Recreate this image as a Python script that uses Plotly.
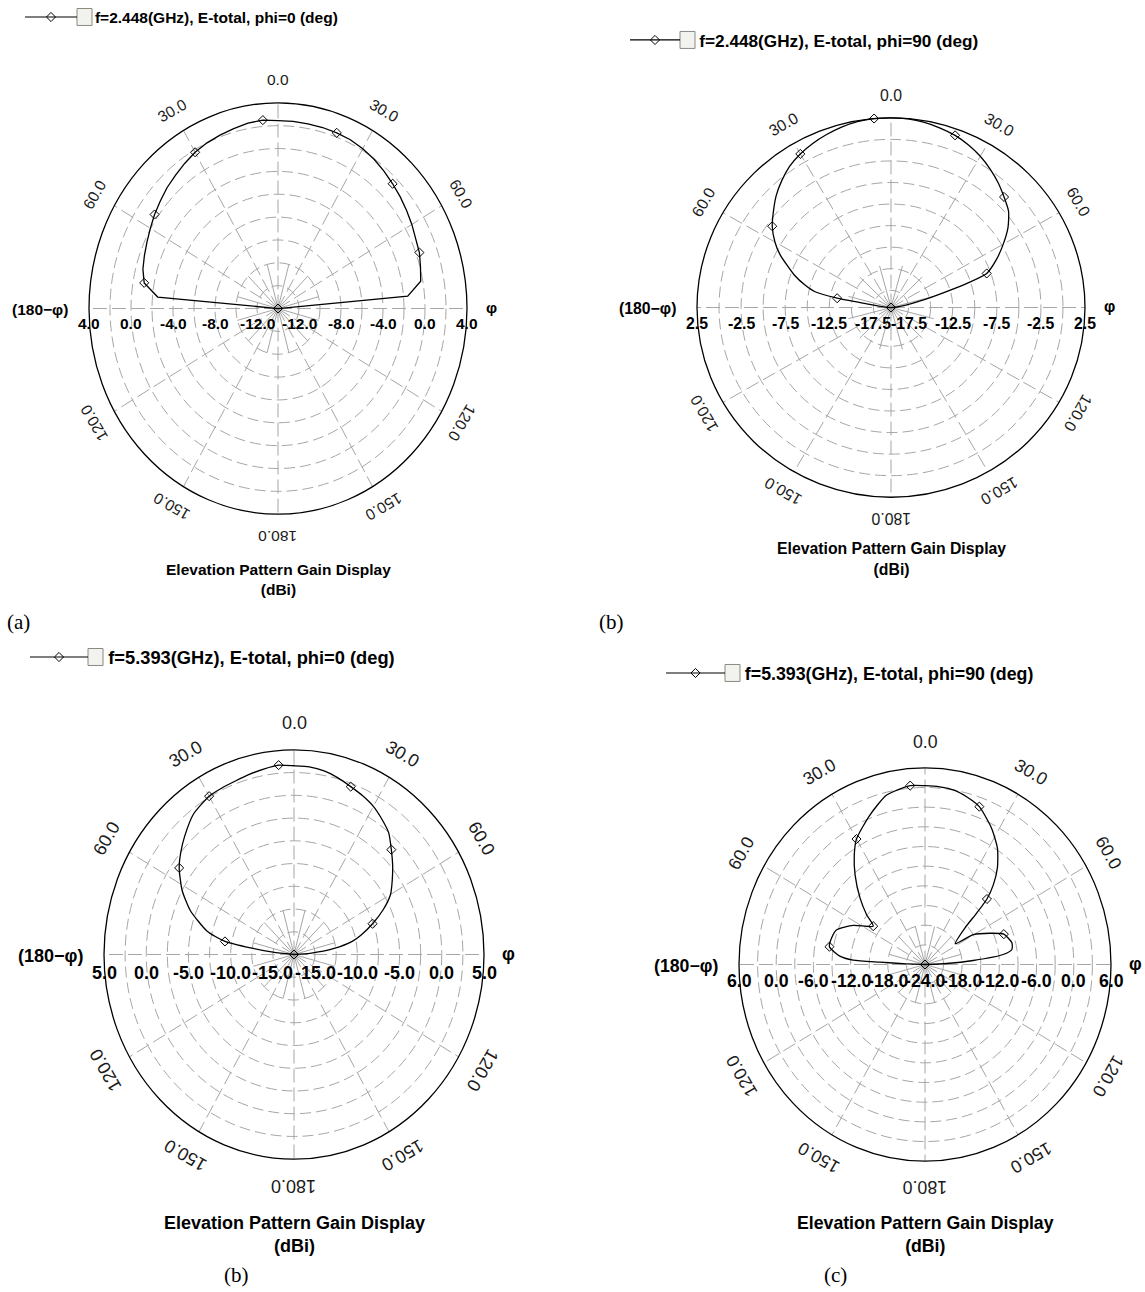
import numpy as np
import plotly.graph_objects as go

W, H = 1145, 1292

# ---------------- data ----------------
MARK_THETA = [-80, -55, -30, -5, 20, 45, 70, 95]
ANGLE_TICKS = [0, 30, 60, 120, 150, 180]

# (a) f=2.448 GHz, phi=0
theta_a = [-90, -85, -80, -75, -70, -65, -60, -55, -50, -45, -40, -35, -30, -25, -20, -15, -10, -5,
           0, 5, 10, 15, 20, 25, 30, 35, 40, 45, 50, 55, 60, 65, 70, 75, 80, 85, 90, 95]
gain_a = [-14, -2.5, -1.06, -0.68, -0.46, -0.23, 0.04, 0.35, 0.63, 0.95, 1.2, 1.5, 1.79, 2.0, 2.15, 2.3, 2.47, 2.55,
          2.45, 2.45, 2.4, 2.4, 2.36, 2.3, 2.15, 1.95, 1.7, 1.44, 1.2, 0.95, 0.72, 0.5, 0.33, 0.05, -0.2, -1.6, -14, -14]
range_a = [-14, 4]
radial_ticks_a = [4.0, 0.0, -4.0, -8.0, -12.0]

# (b) f=2.448 GHz, phi=90
theta_b = [-90, -86, -81, -80, -78, -75, -71, -64, -60, -55, -50, -45, -40, -35, -30, -25, -20, -15, -10, -5,
           0, 5, 10, 15, 20, 25, 30, 35, 40, 45, 50, 55, 60, 65, 70, 72, 74, 77, 81, 85, 90, 95]
gain_b = [-19.5, -18.9, -16.6, -13.3, -10.7, -9.4, -7.9, -5.5, -4.3, -3.06, -2.1, -1.1, -0.25, 0.52, 1.07, 1.5, 1.85, 2.17, 2.4, 2.5,
          2.5, 2.45, 2.3, 2.05, 1.75, 1.3, 0.75, 0.1, -0.6, -1.37, -2.1, -3.3, -4.8, -6.3, -7.95, -10.5, -13.5, -16.0, -17.8, -18.8, -19.5, -19.5]
range_b = [-19.5, 2.5]
radial_ticks_b = [2.5, -2.5, -7.5, -12.5, -17.5]

# (c) f=5.393 GHz, phi=0
theta_c = [-90, -84, -82, -80, -76, -68.5, -62, -55, -50, -45, -37.6, -30, -25, -20, -15, -10, -5,
           0, 5, 10, 15, 20, 25, 30, 35, 40, 45, 50, 55, 60, 65, 70, 75, 78, 82, 86, 90, 95]
gain_c = [-17.5, -15.0, -12.3, -9.2, -6.9, -4.3, -2.5, -0.9, 0.0, 0.83, 2.0, 2.6, 2.7, 2.8, 3.0, 3.2, 3.4,
          3.25, 3.2, 3.0, 2.6, 2.14, 1.75, 1.3, 0.65, -0.05, -1.2, -2.25, -3.3, -4.3, -5.85, -7.6, -9.3, -10.4, -12.7, -15.6, -17.5, -17.5]
range_c = [-17.5, 5]
radial_ticks_c = [5.0, 0.0, -5.0, -10.0, -15.0]

# (d) f=5.393 GHz, phi=90
theta_d = [-90, -88, -87.2, -86.7, -84.7, -80, -75, -69.6, -62.7, -55, -51.1, -45.9, -39.5, -34.3, -30, -21.3, -13.45, -5,
           0, 5, 10, 15, 20, 27.3, 33.4, 38.4, 42.2, 45, 46.7, 49.1, 57, 59.7, 65.5, 70, 76.7, 80.7, 83.1, 85.5, 87.5, 90, 95]
gain_d = [-24, -21, -16.7, -12.4, -10.2, -8.35, -8.4, -8.8, -11, -13.8, -11.9, -9.4, -6.27, -3.76, -1.9, 0.47, 2.58, 3.39,
          3.27, 3.2, 3.0, 2.4, 1.62, -0.6, -2.77, -5.2, -7.6, -9.87, -12.5, -15.5, -18.2, -14.97, -12.5, -10.47, -9.6, -9.8, -11.3, -16.2, -20.5, -24, -24]
range_d = [-24, 6]
radial_ticks_d = [6.0, 0.0, -6.0, -12.0, -18.0, -24.0]

legend_names = ["f=2.448(GHz), E-total, phi=0 (deg)", "f=2.448(GHz), E-total, phi=90 (deg)",
                "f=5.393(GHz), E-total, phi=0 (deg)", "f=5.393(GHz), E-total, phi=90 (deg)"]
ring_steps = [2, 2.5, 2.5, 3]
captions = ["(a)", "(b)", "(b)", "(c)"]

# ---------------- layout geometry ----------------
SANS = "Liberation Sans, Arial, sans-serif"
SERIF = "Liberation Serif, Times New Roman, serif"
panels = [
    dict(theta=theta_a, gain=gain_a, rng=range_a, ticks=radial_ticks_a, cx=278, cy=307, rx=189, ry=206,
         fs=15.5, lfs=15.5, aoff=23, labdy=15, leg=(20, 15), iw=52, title_y=558, cap=(18, 621), spline=False),
    dict(theta=theta_b, gain=gain_b, rng=range_b, ticks=radial_ticks_b, cx=891, cy=306, rx=194, ry=190,
         fs=15.8, lfs=17.2, aoff=22, labdy=16, leg=(625, 38), iw=50, title_y=537, cap=(611, 621), spline=True),
    dict(theta=theta_c, gain=gain_c, rng=range_c, ticks=radial_ticks_c, cx=294, cy=954, rx=190, ry=205,
         fs=18, lfs=18.3, aoff=27, labdy=19, leg=(25, 656), iw=58, title_y=1211, cap=(236, 1275), spline=True),
    dict(theta=theta_d, gain=gain_d, rng=range_d, ticks=radial_ticks_d, cx=925, cy=964, rx=186, ry=197,
         fs=17.7, lfs=17.8, aoff=26, labdy=17, leg=(661, 672), iw=59, title_y=1211, cap=(835, 1275), spline=True),
]


def px(x):
    return x / W


def py(y):
    return 1 - y / H


R = 1.06
GRID = "#a6a6a6"
fig = go.Figure()
shapes, annos = [], []
layout = {}

for i, p in enumerate(panels):
    k = "" if i == 0 else str(i + 1)
    xa, ya = "x" + k, "y" + k
    gmin, gmax = p["rng"]
    span = gmax - gmin
    cx, cy, rx, ry, fs = p["cx"], p["cy"], p["rx"], p["ry"], p["fs"]

    layout["xaxis" + k] = dict(domain=[px(cx - R * rx), px(cx + R * rx)], range=[-R, R], visible=False,
                               fixedrange=True, anchor=ya)
    layout["yaxis" + k] = dict(domain=[py(cy + R * ry), py(cy - R * ry)], range=[-R, R], visible=False,
                               fixedrange=True, anchor=xa)

    # rings
    step = ring_steps[i]
    v = gmax - step
    while v > gmin + 1e-6:
        rr = (v - gmin) / span
        shapes.append(dict(type="circle", xref=xa, yref=ya, x0=-rr, x1=rr, y0=-rr, y1=rr,
                           line=dict(color=GRID, width=1, dash="11px,5px"), layer="below"))
        v -= step
    # spokes
    for a in range(0, 360, 30):
        t = np.radians(a)
        shapes.append(dict(type="line", xref=xa, yref=ya, x0=0, y0=0, x1=np.sin(t), y1=np.cos(t),
                           line=dict(color=GRID, width=1, dash="14px,5px"), layer="below"))
    r2 = 2 * step / span
    for a in range(15, 360, 30):
        t = np.radians(a)
        shapes.append(dict(type="line", xref=xa, yref=ya, x0=0, y0=0, x1=r2 * np.sin(t), y1=r2 * np.cos(t),
                           line=dict(color=GRID, width=1), layer="below"))
    # outer circle
    shapes.append(dict(type="circle", xref=xa, yref=ya, x0=-1, x1=1, y0=-1, y1=1,
                       line=dict(color="black", width=1.3), layer="below"))

    # data
    th = np.radians(np.array(p["theta"], dtype=float))
    r = np.clip((np.array(p["gain"], dtype=float) - gmin) / span, 0, 1)
    fig.add_trace(go.Scatter(x=r * np.sin(th), y=r * np.cos(th), mode="lines", xaxis=xa, yaxis=ya,
                             line=dict(color="black", width=1.3,
                                       shape="spline" if p["spline"] else "linear", smoothing=0.6),
                             showlegend=False, hoverinfo="skip"))
    mg = [p["gain"][p["theta"].index(t)] for t in MARK_THETA]
    mth = np.radians(np.array(MARK_THETA, dtype=float))
    mr = np.clip((np.array(mg, dtype=float) - gmin) / span, 0, 1)
    fig.add_trace(go.Scatter(x=mr * np.sin(mth), y=mr * np.cos(mth), mode="markers", xaxis=xa, yaxis=ya,
                             marker=dict(symbol="diamond-open", size=7, color="black", line=dict(width=1)),
                             showlegend=False, hoverinfo="skip"))
    # legend entry
    lg = "legend" + k
    lfs = p["lfs"]
    fig.add_trace(go.Scatter(x=[None], y=[None], mode="lines+markers", xaxis=xa, yaxis=ya,
                             name="\u00a0\u00a0\u00a0" + legend_names[i], legend=lg,
                             line=dict(color="black", width=1.2),
                             marker=dict(symbol="diamond-open", size=7, color="black", line=dict(width=1))))
    lx, lyc = p["leg"]
    item_h = max(1.3 * lfs, 16) + 3
    layout[lg] = dict(x=px(lx), y=py(lyc - item_h / 2 - 5), xanchor="left", yanchor="top",
                      bgcolor="rgba(0,0,0,0)", borderwidth=0, itemwidth=p["iw"],
                      font=dict(family=SANS, size=lfs, color="black", weight="bold"))
    bx = lx + p["iw"] + 5
    shapes.append(dict(type="rect", xref="paper", yref="paper", x0=px(bx), x1=px(bx + 15),
                       y0=py(lyc + 8.5), y1=py(lyc - 8.5), fillcolor="#f2f2ee",
                       line=dict(color="#8a8a80", width=1)))

    # angular labels
    off = p["aoff"]
    for a in ANGLE_TICKS:
        sides = [a] if a in (0, 180) else [a, -a]
        for s in sides:
            t = np.radians(s)
            X = cx + (rx + off) * np.sin(t)
            Y = cy - (ry + off) * np.cos(t)
            annos.append(dict(x=px(X), y=py(Y), xref="paper", yref="paper", text="%.1f" % a,
                              showarrow=False, textangle=s, xanchor="center", yanchor="middle",
                              font=dict(family=SANS, size=fs, color="#1a1a1a")))
    # radial labels
    for val in p["ticks"]:
        rr = (val - gmin) / span
        for sgn in ([1] if rr < 1e-6 else [-1, 1]):
            annos.append(dict(x=px(cx + sgn * rr * rx), y=py(cy + p["labdy"]), xref="paper", yref="paper",
                              text="%.1f" % val, showarrow=False, xanchor="center", yanchor="middle",
                              font=dict(family=SANS, size=fs, color="black", weight="bold")))
    annos.append(dict(x=px(cx - rx - 19), y=py(cy + 1), xref="paper", yref="paper", text="(180\u2212\u03c6)",
                      showarrow=False, xanchor="right", yanchor="middle",
                      font=dict(family=SANS, size=fs, color="black", weight="bold")))
    annos.append(dict(x=px(cx + rx + 24), y=py(cy - 1), xref="paper", yref="paper", text="\u03c6",
                      showarrow=False, xanchor="center", yanchor="middle",
                      font=dict(family=SANS, size=fs, color="black", weight="bold")))
    # title
    annos.append(dict(x=px(cx), y=py(p["title_y"]), xref="paper", yref="paper",
                      text="Elevation Pattern Gain Display<br>(dBi)", showarrow=False,
                      xanchor="center", yanchor="top", align="center",
                      font=dict(family=SANS, size=fs, color="black", weight="bold")))
    annos.append(dict(x=px(p["cap"][0]), y=py(p["cap"][1]), xref="paper", yref="paper", text=captions[i],
                      showarrow=False, xanchor="center", yanchor="middle",
                      font=dict(family=SERIF, size=21, color="black")))

fig.update_layout(width=W, height=H, margin=dict(l=0, r=0, t=0, b=0), paper_bgcolor="white",
                  plot_bgcolor="rgba(0,0,0,0)", shapes=shapes, annotations=annos, hovermode=False, **layout)
fig.write_html("out.html", config={"displayModeBar": False, "staticPlot": False},
               post_script="document.body.style.margin='0px';document.body.style.padding='0px';"
                           "document.documentElement.style.overflow='hidden';")
